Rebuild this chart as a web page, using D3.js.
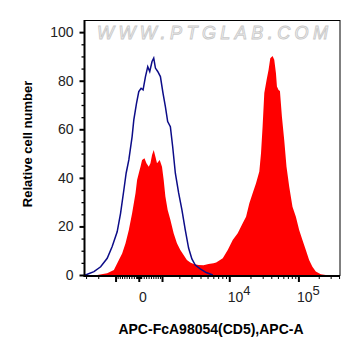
<!DOCTYPE html>
<html><head><meta charset="utf-8">
<script src="https://cdn.jsdelivr.net/npm/d3@7"></script>
<style>body{margin:0;background:#fff}svg{display:block}</style>
</head><body>
<svg id="c" width="361" height="356"></svg>
<script>
// Histogram bins on the display channel scale (0-256 across the plot)
const controlChannel = [0, 2.3, 9, 15.7, 22.3, 27.3, 32.3, 35.7, 39, 41.3, 44, 47.3, 49, 51.7, 54, 56.3, 58.3, 60.7, 63, 65, 67.3, 69, 70.7, 73, 75.7, 78.3, 80.7, 83, 85.7, 88, 90.7, 94, 97.3, 100.7, 104, 107.3, 110.7, 115.7, 121.7, 128.3];
const controlCount   = [0, 0.3, 1.4, 3.4, 6.9, 11.7, 17.8, 25.4, 35.0, 41.9, 47.4, 57.0, 63.9, 70.7, 75.5, 76.9, 76.2, 81.7, 85.8, 83.8, 87.9, 89.3, 85.2, 83.8, 81.7, 74.9, 69.3, 63.2, 61.1, 52.9, 41.9, 33.8, 26.8, 18.5, 11.1, 6.6, 4.1, 2.5, 1.0, 0];

const sampleChannel = [12.3, 22.3, 29, 34, 37.3, 40.7, 44, 47.3, 50.7, 52.3, 54, 55.7, 57.3, 59.7, 61.7, 64, 65.7, 67.3, 69, 70.7, 72.3, 75, 77.3, 79, 80.7, 83, 85.7, 89, 92.3, 95.7, 99, 102.3, 105.7, 109, 114, 119, 124, 129, 131.7, 138.3, 143.3, 148.3, 153.3, 158.3, 161.7, 165, 168.3, 171.7, 175, 176.7, 178.3, 180, 182.3, 184.3, 186, 188.3, 190, 191.7, 192.7, 194.3, 195.7, 197.7, 200, 202.3, 205, 208.3, 211.7, 215, 218.3, 221.7, 225, 228.3, 231.7, 236.7, 241.7];
const sampleCount   = [0, 0.7, 2.1, 6.2, 8.9, 13.1, 18.5, 25.4, 33.7, 39.1, 41.9, 44.6, 47.4, 48.1, 46.0, 44.6, 46.0, 49.4, 51.5, 48.7, 46.0, 47.4, 44.6, 39.1, 32.3, 26.8, 22.7, 17.2, 13.1, 10.3, 8.2, 6.2, 5.1, 4.5, 4.1, 4.0, 4.5, 4.8, 5.1, 6.9, 10.3, 14.4, 17.2, 21.3, 24.0, 29.5, 33.7, 37.8, 42.6, 50.1, 61.1, 74.9, 80.3, 84.5, 89.3, 90.2, 88.6, 83.1, 77.6, 76.2, 75.8, 65.2, 55.6, 44.6, 36.4, 28.1, 24.0, 18.5, 14.4, 10.3, 6.2, 3.4, 1.4, 0.3, 0];

const yMajorTicks = [0, 20, 40, 60, 80, 100];
const yMinorTicks = [5, 10, 15, 25, 30, 35, 45, 50, 55, 65, 70, 75, 85, 90, 95];
const xLabelTicks = [0, 10000, 100000];
const xLabelSup   = ["", "4", "5"];
const xMajorTicks = [-1000, 0, 1000, 10000, 100000];
const xMinorTicks = [-3000, -2000, -900, -800, -700, -600, -500, -400, -300, -200, -100,
  -90, -80, -70, -60, -50, -40, -30, -20, -10, 10, 20, 30, 40, 50, 60, 70, 80, 90,
  100, 200, 300, 400, 500, 600, 700, 800, 900, 2000, 3000, 4000, 5000, 6000, 7000, 8000, 9000,
  20000, 30000, 40000, 50000, 60000, 70000, 80000, 90000, 200000, 300000, 400000];

const xTitle = "APC-FcA98054(CD5),APC-A";
const yTitle = "Relative cell number";
const watermark = "WWW.PTGLAB.COM";

// biexponential (logicle-like) transform: value -> channel
const LA = 418.6, LP = 1.82, CH0 = 54.5, KCH = 29.31;
function S(z){ return LA*(Math.exp(z) - LP*LP*Math.exp(-z/LP) + LP*LP - 1); }
function logicleZ(v){
  const a = Math.abs(v); let lo = 0, hi = 20;
  for (let i = 0; i < 80; i++){ const m = (lo+hi)/2; if (S(m) < a) lo = m; else hi = m; }
  return Math.sign(v) * (lo+hi)/2;
}
const toChannel = v => CH0 + KCH*logicleZ(v);

const L = 85, R = 340, T = 20, B = 275;
const x = d3.scaleLinear().domain([0, 256]).range([L, R]);
const y = d3.scaleLinear().domain([0, 105]).range([B, T]);

const svg = d3.select("#c");
const FONT = "'Liberation Sans', Arial, sans-serif";

svg.append("defs").append("clipPath").attr("id","clip")
  .append("rect").attr("x", L).attr("y", T).attr("width", R-L).attr("height", B-T+1);

const plot = svg.append("g").attr("clip-path","url(#clip)");

// watermark
svg.append("text").attr("x", 97).attr("y", 38.5).text(watermark)
  .attr("font-family", FONT).attr("font-size", 18).attr("font-style","italic")
  .attr("textLength", 231).attr("lengthAdjust","spacing")
  .attr("fill","#fafafa").attr("stroke","#c9c9c9").attr("stroke-width",0.9);

const sample = sampleChannel.map((c,i)=>({c, n: sampleCount[i]}));
const control = controlChannel.map((c,i)=>({c, n: controlCount[i]}));

plot.append("path").datum(sample)
  .attr("d", d3.area().x(d=>x(d.c)).y0(y(0)).y1(d=>y(d.n)))
  .attr("fill","#ff0000");
plot.append("path").datum(control)
  .attr("d", d3.line().x(d=>x(d.c)).y(d=>y(d.n)))
  .attr("fill","none").attr("stroke","#0c0c88").attr("stroke-width",1.5);

// frame
svg.append("rect").attr("x", L-0.5).attr("y", T+0.5).attr("width", R-L+0.5).attr("height", B-T)
  .attr("fill","none").attr("stroke","#000").attr("stroke-width",1);

// Y axis
const yAx = svg.append("g").attr("transform",`translate(${L-0.5},0)`)
  .call(d3.axisLeft(y).tickValues(yMajorTicks).tickSize(5).tickPadding(6).tickFormat(d3.format("d")));
yAx.select(".domain").attr("stroke-width",2).attr("d",`M0,${T}V${B+1.5}`);
yAx.selectAll(".tick line").attr("stroke-width",2);
yAx.selectAll("text").attr("font-family",FONT).attr("font-size",14).attr("fill","#222");
const yMin = svg.append("g").attr("transform",`translate(${L-0.5},0)`)
  .call(d3.axisLeft(y).tickValues(yMinorTicks).tickSize(3).tickFormat(""));
yMin.select(".domain").remove();
yMin.selectAll(".tick line").attr("stroke-width",1.3);

// X axis
const xg = svg.append("g");
xg.append("line").attr("x1", L-1.5).attr("x2", R).attr("y1", B+1).attr("y2", B+1)
  .attr("stroke","#000").attr("stroke-width",2);
xg.selectAll("line.minor").data(xMinorTicks).join("line").attr("class","minor")
  .attr("x1", d=>x(toChannel(d))).attr("x2", d=>x(toChannel(d)))
  .attr("y1", B+1).attr("y2", B+4).attr("stroke","#000").attr("stroke-width",1);
xg.selectAll("line.major").data(xMajorTicks).join("line").attr("class","major")
  .attr("x1", d=>x(toChannel(d))).attr("x2", d=>x(toChannel(d)))
  .attr("y1", B+1).attr("y2", B+7).attr("stroke","#000").attr("stroke-width",2);
const lab = xg.selectAll("text.xl").data(xLabelTicks).join("text").attr("class","xl")
  .attr("font-family",FONT).attr("font-size",14).attr("fill","#222")
  .attr("y", 302);
lab.each(function(d,i){
  const t = d3.select(this);
  const px = x(toChannel(d));
  if (xLabelSup[i] === "") {
    t.attr("x", px+3.5).attr("text-anchor","middle").text("0");
  } else {
    t.attr("x", px-2).attr("text-anchor","start");
    t.append("tspan").text("10");
    t.append("tspan").attr("dy",-7).attr("font-size",13).text(xLabelSup[i]);
  }
});

// titles
svg.append("text").attr("x", 211).attr("y", 334).attr("text-anchor","middle")
  .attr("font-family",FONT).attr("font-weight","bold").attr("font-size",14).text(xTitle);
svg.append("text").attr("transform","translate(32,144) rotate(-90)").attr("text-anchor","middle")
  .attr("font-family",FONT).attr("font-weight","bold").attr("font-size",13).text(yTitle);
</script>
</body></html>
